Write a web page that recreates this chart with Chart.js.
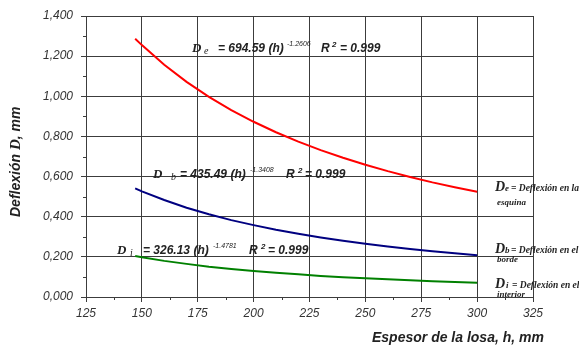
<!DOCTYPE html>
<html><head><meta charset="utf-8">
<script src="https://cdn.jsdelivr.net/npm/chart.js@4/dist/chart.umd.min.js"></script>
<style>html,body{margin:0;padding:0;background:#fff;overflow:hidden}#wrap{width:579px;height:350px}</style>
</head><body><div id="wrap"><canvas id="c" width="579" height="350"></canvas></div>
<script>
// Slab thickness h (mm)
const thickness = [147, 150, 160, 170, 180, 190, 200, 210, 220, 230, 240, 250, 260, 270, 280, 290, 300];
// Corner deflection De (mm)
const cornerDefl = [1.287, 1.255, 1.157, 1.072, 0.997, 0.931, 0.873, 0.821, 0.774, 0.732, 0.694, 0.659, 0.627, 0.598, 0.571, 0.547, 0.524];
// Edge deflection Db (mm)
const edgeDefl = [0.541, 0.526, 0.483, 0.445, 0.412, 0.383, 0.358, 0.335, 0.315, 0.297, 0.280, 0.265, 0.252, 0.239, 0.228, 0.218, 0.208];
// Interior deflection Di (mm)
const interiorDefl = [0.204, 0.198, 0.180, 0.165, 0.151, 0.140, 0.130, 0.121, 0.113, 0.105, 0.099, 0.093, 0.088, 0.083, 0.079, 0.075, 0.071];

const xTicks = [125, 150, 175, 200, 225, 250, 275, 300, 325];
const yTicks = [0, 0.2, 0.4, 0.6, 0.8, 1.0, 1.2, 1.4];

const SANS = '"Liberation Sans", Arial, sans-serif';
const SERIF = '"Liberation Serif", "Times New Roman", serif';
const GRID = '#3c3c3c';
const TXT = '#222';

function pts(ys) { return thickness.map((h, i) => ({ x: h, y: ys[i] })); }

function drawRuns(ctx, runs) {
  for (const r of runs) {
    ctx.font = r.f;
    ctx.fillStyle = r.c || TXT;
    ctx.fillText(r.t, r.x, r.y);
  }
}

const overlay = {
  id: 'overlay',
  afterDraw(chart) {
    const ctx = chart.ctx;
    const xs = chart.scales.x, ys = chart.scales.y;
    const a = chart.chartArea;
    ctx.save();
    // minor ticks
    ctx.strokeStyle = GRID; ctx.lineWidth = 1;
    ctx.beginPath();
    for (let v = 0.1; v < 1.4; v += 0.2) {
      const y = Math.round(ys.getPixelForValue(v)) + 0.5;
      ctx.moveTo(a.left - 3, y); ctx.lineTo(a.left, y);
    }
    for (let v = 137.5; v < 325; v += 25) {
      const x = Math.round(xs.getPixelForValue(v)) + 0.5;
      ctx.moveTo(x, a.bottom); ctx.lineTo(x, a.bottom + 3);
    }
    ctx.stroke();

    ctx.textBaseline = 'alphabetic';
    ctx.textAlign = 'left';
    const B12 = 'italic bold 12px ' + SANS;
    const DSER = 'italic bold 13px ' + SERIF;
    const SUB = 'italic 10px ' + SERIF;
    const SUP = 'italic 7px ' + SANS;
    const SUP2 = 'italic bold 8px ' + SANS;
    // equations
    drawRuns(ctx, [
      { t: 'D', x: 192, y: 52, f: DSER },
      { t: 'e', x: 204, y: 54, f: SUB },
      { t: '= 694.59 (h)', x: 218, y: 52, f: B12 },
      { t: '-1.2606', x: 287, y: 46, f: SUP },
      { t: 'R', x: 321, y: 52, f: B12 },
      { t: '2', x: 332, y: 47, f: SUP2 },
      { t: '= 0.999', x: 340, y: 52, f: B12 },

      { t: 'D', x: 153, y: 178, f: DSER },
      { t: 'b', x: 171, y: 180, f: SUB },
      { t: '= 435.49 (h)', x: 180, y: 178, f: B12 },
      { t: '-1.3408', x: 250, y: 172, f: SUP },
      { t: 'R', x: 286, y: 178, f: B12 },
      { t: '2', x: 298, y: 173, f: SUP2 },
      { t: '= 0.999', x: 305, y: 178, f: B12 },

      { t: 'D', x: 117, y: 254, f: DSER },
      { t: 'i', x: 130, y: 256, f: SUB },
      { t: '= 326.13 (h)', x: 143, y: 254, f: B12 },
      { t: '-1.4781', x: 213, y: 248, f: SUP },
      { t: 'R', x: 249, y: 254, f: B12 },
      { t: '2', x: 261, y: 249, f: SUP2 },
      { t: '= 0.999', x: 268, y: 254, f: B12 }
    ]);
    // side legend
    const LD = 'italic bold 14px ' + SERIF;
    const LS = 'italic bold 9px ' + SERIF;
    const LT = 'italic bold 9.5px ' + SERIF;
    const LT2 = 'italic bold 9px ' + SERIF;
    drawRuns(ctx, [
      { t: 'D', x: 495, y: 191, f: LD },
      { t: 'e', x: 505, y: 191, f: LS },
      { t: '= Deflexión en la', x: 511, y: 191, f: LT },
      { t: 'esquina', x: 497, y: 205, f: LT2 },
      { t: 'D', x: 495, y: 253, f: LD },
      { t: 'b', x: 505, y: 253, f: LS },
      { t: '= Deflexión en el', x: 511, y: 253, f: LT },
      { t: 'borde', x: 497, y: 262, f: LT2 },
      { t: 'D', x: 495, y: 288, f: LD },
      { t: 'i', x: 506, y: 288, f: LS },
      { t: '= Deflexión en el', x: 512, y: 288, f: LT },
      { t: 'interior', x: 497, y: 297, f: LT2 }
    ]);
    // x title
    ctx.font = 'italic bold 14px ' + SANS;
    ctx.fillStyle = TXT;
    ctx.fillText('Espesor de la losa, h, mm', 372, 342);
    // y title rotated
    ctx.translate(20, 217);
    ctx.rotate(-Math.PI / 2);
    const p1 = 'Deflexión ', p2 = 'D', p3 = ', mm';
    ctx.font = 'italic bold 14px ' + SANS;
    ctx.fillText(p1, 0, 0);
    let w = ctx.measureText(p1).width;
    ctx.font = 'italic bold 15px ' + SERIF;
    ctx.fillText(p2, w, 0);
    w += ctx.measureText(p2).width;
    ctx.font = 'italic bold 14px ' + SANS;
    ctx.fillText(p3, w, 0);
    ctx.restore();
  }
};

new Chart(document.getElementById('c'), {
  type: 'line',
  data: {
    datasets: [
      { data: pts(cornerDefl), borderColor: '#ff0000', borderWidth: 2, pointRadius: 0, tension: 0, fill: false },
      { data: pts(edgeDefl), borderColor: '#000080', borderWidth: 2, pointRadius: 0, tension: 0, fill: false },
      { data: pts(interiorDefl), borderColor: '#008000', borderWidth: 2, pointRadius: 0, tension: 0, fill: false }
    ]
  },
  options: {
    responsive: false,
    animation: false,
    devicePixelRatio: 1,
    layout: { padding: { left: 0, right: 46, top: 16, bottom: 0 } },
    plugins: { legend: { display: false }, tooltip: { enabled: false }, title: { display: false } },
    scales: {
      x: {
        type: 'linear', min: 125, max: 325,
        afterFit(s) { s.height = 53; },
        afterBuildTicks(s) { s.ticks = xTicks.map(v => ({ value: v })); },
        ticks: { color: '#333', font: { family: SANS, size: 12, style: 'italic' }, padding: 4, maxRotation: 0, autoSkip: false, callback: v => String(v) },
        grid: { color: GRID, lineWidth: 1, drawTicks: true, tickLength: 5, tickColor: GRID },
        border: { display: true, color: GRID, width: 1 }
      },
      y: {
        type: 'linear', min: 0, max: 1.4,
        afterFit(s) { s.width = 86; },
        afterBuildTicks(s) { s.ticks = yTicks.map(v => ({ value: v })); },
        ticks: { color: '#333', font: { family: SANS, size: 12, style: 'italic' }, padding: 8, autoSkip: false, callback: v => v.toFixed(3).replace('.', ',') },
        grid: { color: GRID, lineWidth: 1, drawTicks: true, tickLength: 5, tickColor: GRID },
        border: { display: true, color: GRID, width: 1 }
      }
    }
  },
  plugins: [overlay]
});
</script>
</body></html>
